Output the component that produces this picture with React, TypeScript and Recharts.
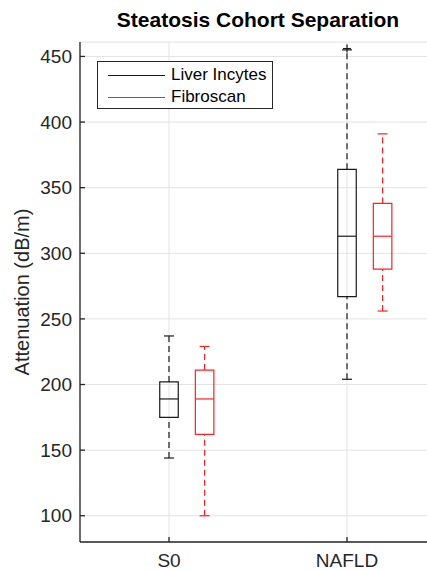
import React from "react";
import {
  ComposedChart,
  XAxis,
  YAxis,
  CartesianGrid,
  ReferenceArea,
  ReferenceLine,
  Scatter,
} from "recharts";

// category positions on the numeric x axis
const categories = ["S0", "NAFLD"];
const positions = [1, 2];

// [min, q1, median, q3, max] per category
const liverStats = [
  [144, 175, 189, 202, 237],
  [204, 267, 313, 364, 455],
];
const fibroStats = [
  [100, 162, 189, 211, 229],
  [256, 288, 313, 338, 391],
];
const liverOutliers = [{ x: 2, y: 456 }];

const yTicks = [100, 150, 200, 250, 300, 350, 400, 450];

const FONT = "'Liberation Sans', Arial, sans-serif";
const AXIS = "#262626";
const BLACK = "#1a1a1a";
const RED = "#ff2020";

const BOX_HALF = 0.052;
const CAP_HALF = 0.028;
const RED_OFFSET = 0.2;

function boxParts(stats: number[][], offset: number, color: string, key: string) {
  const out: React.ReactNode[] = [];
  stats.forEach((s, i) => {
    const cx = positions[i] + offset;
    const [lo, q1, med, q3, hi] = s;
    out.push(
      <ReferenceLine key={`${key}-wl-${i}`} segment={[{ x: cx, y: lo }, { x: cx, y: q1 }]} stroke={color} strokeDasharray="6 4" strokeWidth={1.2} />,
      <ReferenceLine key={`${key}-wh-${i}`} segment={[{ x: cx, y: q3 }, { x: cx, y: hi }]} stroke={color} strokeDasharray="6 4" strokeWidth={1.2} />,
      <ReferenceLine key={`${key}-cl-${i}`} segment={[{ x: cx - CAP_HALF, y: lo }, { x: cx + CAP_HALF, y: lo }]} stroke={color} strokeWidth={1.2} />,
      <ReferenceLine key={`${key}-ch-${i}`} segment={[{ x: cx - CAP_HALF, y: hi }, { x: cx + CAP_HALF, y: hi }]} stroke={color} strokeWidth={1.2} />,
      <ReferenceArea key={`${key}-box-${i}`} x1={cx - BOX_HALF} x2={cx + BOX_HALF} y1={q1} y2={q3} fill="none" fillOpacity={0} stroke={color} strokeWidth={1.2} />,
      <ReferenceLine key={`${key}-md-${i}`} segment={[{ x: cx - BOX_HALF, y: med }, { x: cx + BOX_HALF, y: med }]} stroke={color} strokeWidth={1.2} />
    );
  });
  return out;
}

const PlusShape = (props: any) => {
  const { cx, cy } = props;
  return (
    <g stroke={BLACK} strokeWidth={1.2}>
      <line x1={cx - 4} y1={cy} x2={cx + 4} y2={cy} />
      <line x1={cx} y1={cy - 4} x2={cx} y2={cy + 4} />
    </g>
  );
};

export default function App() {
  return (
    <div style={{ position: "absolute", left: 0, top: 0, width: 427, height: 570, overflow: "hidden", background: "#fff", fontFamily: FONT }}>
      <div style={{ position: "absolute", left: 80, width: 356, top: 8, textAlign: "center", fontWeight: "bold", fontSize: 21, color: "#000" }}>
        Steatosis Cohort Separation
      </div>
      <div style={{ position: "absolute", left: 0, top: 0 }}>
        <ComposedChart width={450} height={570} margin={{ top: 42, right: 14, bottom: 0, left: 0 }}>
          <CartesianGrid stroke="#e3e3e3" strokeWidth={1} />
          <XAxis
            xAxisId={0}
            type="number"
            dataKey="x"
            domain={[0.5, 2.5]}
            ticks={positions}
            tickFormatter={(v: number) => categories[positions.indexOf(v)] ?? ""}
            height={28}
            stroke={AXIS}
            strokeWidth={1.3}
            tickSize={-5}
            tickMargin={17}
            tick={{ fill: AXIS, fontSize: 19, fontFamily: FONT }}
            allowDataOverflow
          />
          <XAxis
            xAxisId="top"
            orientation="top"
            type="number"
            domain={[0.5, 2.5]}
            ticks={positions}
            height={0}
            stroke={AXIS}
            strokeWidth={1.3}
            tickSize={-5}
            tick={false}
          />
          <YAxis
            yAxisId={0}
            type="number"
            domain={[80, 461]}
            ticks={yTicks}
            width={80}
            stroke={AXIS}
            strokeWidth={1.3}
            tickSize={-5}
            tickMargin={13}
            tick={{ fill: AXIS, fontSize: 19, fontFamily: FONT }}
            allowDataOverflow
            label={{ value: "Attenuation (dB/m)", angle: -90, position: "insideLeft", offset: 22, style: { fill: AXIS, fontSize: 20, fontFamily: FONT, textAnchor: "middle" } }}
          />
          <YAxis yAxisId="right" orientation="right" type="number" domain={[80, 461]} ticks={yTicks} width={0} stroke={AXIS} strokeWidth={1.3} tickSize={-5} tick={false} />
          {boxParts(liverStats, 0, BLACK, "liv")}
          {boxParts(fibroStats, RED_OFFSET, RED, "fib")}
          <Scatter data={liverOutliers} dataKey="y" shape={<PlusShape />} isAnimationActive={false} />
        </ComposedChart>
      </div>
      <div style={{ position: "absolute", left: 97, top: 61, width: 174, height: 46, border: `1.3px solid ${AXIS}`, background: "#fff", fontSize: 17, color: "#000" }}>
        {[{ name: "Liver Incytes", color: BLACK }, { name: "Fibroscan", color: RED }].map((e, i) => (
          <div key={e.name} style={{ position: "absolute", left: 10, top: 2 + i * 22, height: 22, display: "flex", alignItems: "center" }}>
            <span style={{ display: "inline-block", width: 57, height: 0, borderTop: `1.3px solid ${e.color}`, marginRight: 6 }} />
            <span>{e.name}</span>
          </div>
        ))}
      </div>
    </div>
  );
}
